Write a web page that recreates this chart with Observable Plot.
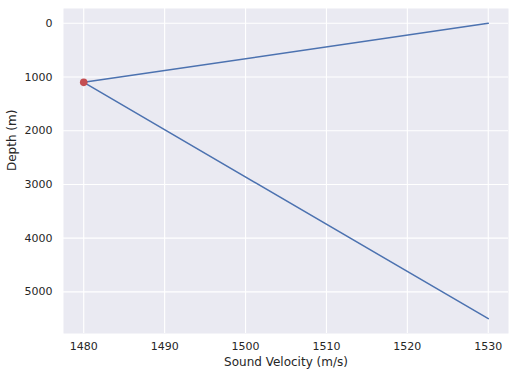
<!DOCTYPE html>
<html><head><meta charset="utf-8">
<script src="https://cdn.jsdelivr.net/npm/d3@7"></script>
<script src="https://cdn.jsdelivr.net/npm/@observablehq/plot@0.6"></script>
<style>body{margin:0;background:#fff;} svg{display:block;}</style>
</head><body><div id="chart"></div>
<script>
const velocity = [1530, 1480, 1530];
const depth = [0, 1100, 5500];
const minVelocity = [1480];
const minDepth = [1100];
const xTicks = [1480, 1490, 1500, 1510, 1520, 1530];
const yTicks = [0, 1000, 2000, 3000, 4000, 5000];

const profile = velocity.map((v, i) => ({v, d: depth[i]}));
const minimum = minVelocity.map((v, i) => ({v, d: minDepth[i]}));

const chart = Plot.plot({
  width: 515, height: 377,
  marginLeft: 63, marginRight: 7, marginTop: 8, marginBottom: 44,
  style: {fontFamily: "DejaVu Sans", fontSize: "11px", color: "#262626", background: "#fff"},
  x: {domain: [1477.5, 1532.5]},
  y: {domain: [-275, 5775], reverse: true},
  marks: [
    Plot.frame({fill: "#EAEAF2", stroke: null}),
    Plot.ruleX(xTicks, {stroke: "#fff", strokeWidth: 1.1, strokeOpacity: 1}),
    Plot.ruleY(yTicks, {stroke: "#fff", strokeWidth: 1.1, strokeOpacity: 1}),
    Plot.axisX(xTicks, {tickSize: 0, tickPadding: 9, label: null, fontSize: 11, tickFormat: d => String(d)}),
    Plot.axisY(yTicks, {tickSize: 0, tickPadding: 11, label: null, fontSize: 11, tickFormat: d => String(d)}),
    Plot.line(profile, {x: "v", y: "d", stroke: "#4C72B0", strokeWidth: 1.5}),
    Plot.dot(minimum, {x: "v", y: "d", r: 3.8, fill: "#C44E52", stroke: null}),
    Plot.text(["Sound Velocity (m/s)"], {frameAnchor: "bottom", dy: 32, text: d => d, fontSize: 12, fill: "#262626"}),
    Plot.text(["Depth (m)"], {frameAnchor: "left", dx: -51, rotate: -90, text: d => d, fontSize: 12, fill: "#262626"})
  ]
});
document.getElementById("chart").append(chart);
</script></body></html>
